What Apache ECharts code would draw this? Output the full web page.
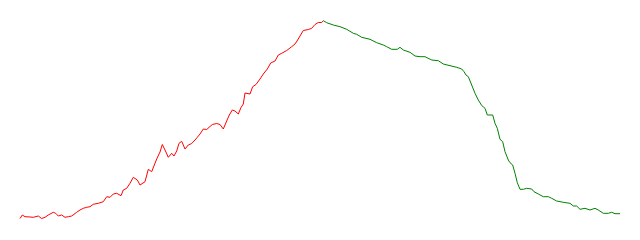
<!DOCTYPE html>
<html>
<head>
<meta charset="utf-8">
<script src="https://cdn.jsdelivr.net/npm/echarts@6/dist/echarts.min.js"></script>
<style>html,body{margin:0;padding:0;background:#fff}#c{width:640px;height:240px}</style>
</head>
<body>
<div id="c"></div>
<script>
var risingDays = [0,2.3,5,10,13.3,15,18.3,21.7,25,28.3,31,33.3,35.7,38.3,41.7,45,48.3,51.7,56.7,60,63.3,66.7,70,73.3,78.3,83.3,86.7,90,93.3,96.7,98.3,101,103.3,106.7,110,113.3,115,117.3,120,122,125,128.3,131.7,133.3,136.7,140,142.3,145,148.3,151.7,154,156.7,159,161.7,163.3,165,168.3,171.7,175,177.3,180,183.3,186.7,190,192.3,196.7,200,203.3,206.7,209.3,212.3,215,218.3,221,223.3,225,227,230,232.7,236,240,243.3,247.3,250.7,255,258.3,261.7,266.7,271.7,275,277,280,283.3,288.3,291.7,295,298.3,301.7,303.3];
var risingValues = [1.5,5,3.3,3,2.7,2.3,4,1.5,2.7,5,6.5,7.7,6.7,4,5,2.7,3.3,4,7.7,10,11.7,12.7,13.3,15.7,16.7,18.3,23.3,22.7,26,26.7,28.3,24.3,30,31.7,36.7,42.7,43.3,40,35,34,38.3,50.7,48.3,50,61,68,75.5,70,62.7,66.7,64,69,76.7,78.7,75,71,75,76.5,80,82.7,86,91,90.5,93.5,95.5,96.5,95.5,91,99,105,110,109,106,112.5,116,127,128,126,133.3,135.5,141,146,151,157,159,165,166.7,169.5,173.3,176,179,184,189.5,190.5,191.7,195.5,197.5,197.5,199.3];
var fallingDays = [303.3,306.7,313.3,320,326.7,333.3,336.7,341.7,350,356.7,363.3,366.7,371.7,377.3,380,383.3,390,395,400,405,411.7,418.3,423.3,430,436.7,441.7,444,446,448.3,451.7,455,458.3,461.7,465,467.3,469.3,472.7,475,477.3,480,482.7,485,488.3,490,492.7,495,497.3,500,503.3,506.7,511.7,514,518.3,523.3,528.3,531.7,536.7,543.3,550,553.3,556.7,560,565,570,575,578.3,583.3,588.3,591.7,595,600];
var fallingValues = [199.3,197.3,195,193.3,190.7,186.7,185.7,182.7,180.7,177.3,175,173.3,170.7,170.7,172.7,170,167.7,164,163.3,163.3,160,159.3,156,154.3,152.7,151,148.3,145,143.3,135,126.7,120,114.5,111.7,105,106.7,105,96.7,91.7,80.7,78.3,68.3,60,57.3,55,46.7,37.3,30.7,30.7,31.7,31,28.3,26,23.3,23.3,21.7,19,17.7,16.7,14,14,10.7,11.7,10,11.7,10,6.7,6.7,7.7,6.3,6.3];

function pairs(xs, ys){ return xs.map(function(x,i){ return [x, ys[i]]; }); }

var chart = echarts.init(document.getElementById('c'), null, {renderer:'canvas'});
chart.setOption({
  animation: false,
  backgroundColor: '#ffffff',
  grid: {left: 20, right: 20, top: 20, bottom: 20},
  xAxis: {type: 'value', min: 0, max: 600, show: false},
  yAxis: {type: 'value', min: 0, max: 200, show: false},
  series: [
    {type: 'line', data: pairs(risingDays, risingValues), showSymbol: false,
     lineStyle: {color: '#ff0000', width: 1}, itemStyle: {color: '#ff0000'}},
    {type: 'line', data: pairs(fallingDays, fallingValues), showSymbol: false,
     lineStyle: {color: '#008000', width: 1}, itemStyle: {color: '#008000'}}
  ]
});
</script>
</body>
</html>
